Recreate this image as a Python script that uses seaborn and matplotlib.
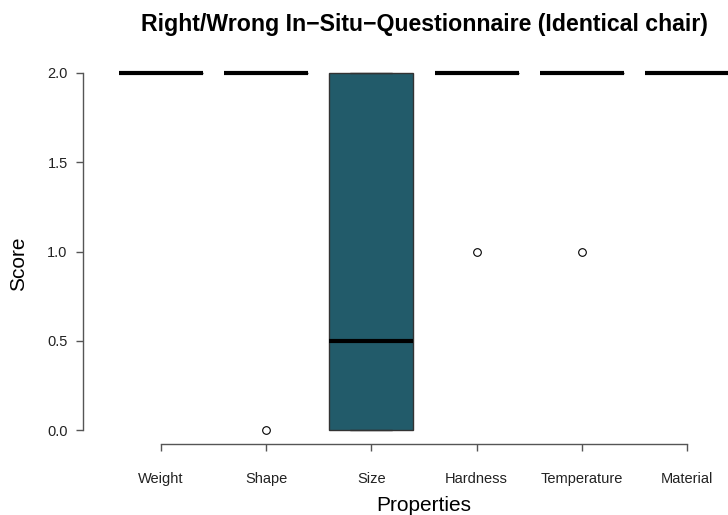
import numpy as np
import pandas as pd
import seaborn as sns
import matplotlib.pyplot as plt

properties = ["Weight", "Shape", "Size", "Hardness", "Temperature", "Material"]
weight = [2, 2, 2, 2, 2, 2, 2, 2]
shape = [2, 2, 2, 2, 2, 2, 2, 0]
size = [0, 0, 0, 0, 1, 2, 2, 2]
hardness = [2, 2, 2, 2, 2, 2, 2, 1]
temperature = [2, 2, 2, 2, 2, 2, 2, 1]
material = [2, 2, 2, 2, 2, 2, 2, 2]
y_ticks = [0.0, 0.5, 1.0, 1.5, 2.0]

scores = [weight, shape, size, hardness, temperature, material]
df = pd.DataFrame({
    "Properties": np.repeat(properties, [len(s) for s in scores]),
    "Score": np.concatenate(scores),
})

sns.set_style("white")
plt.rcParams["font.family"] = ["Liberation Sans", "DejaVu Sans"]
plt.rcParams["text.color"] = "black"
plt.rcParams["axes.labelcolor"] = "black"

fig = plt.figure(figsize=(7.28, 5.15), dpi=100)
ax = fig.add_axes([83 / 728, 70.7 / 515, 682 / 728, 385.6 / 515])

sns.boxplot(data=df, x="Properties", y="Score", order=properties, ax=ax,
            color="#225b6a", saturation=1, width=0.8, whis=1.5,
            linewidth=1, linecolor="#333333",
            medianprops=dict(color="black", linewidth=3),
            whiskerprops=dict(linestyle="--", color="#333333"),
            capprops=dict(color="#333333"),
            flierprops=dict(marker="o", markerfacecolor="none",
                            markeredgecolor="black", markersize=5.5,
                            markeredgewidth=0.8))

ax.set_xlim(-0.74, 5.74)
ax.set_ylim(-0.08, 2.08)
ax.set_yticks(y_ticks)
ax.set_yticklabels([f"{v:.1f}" for v in y_ticks])

for s in ["top", "right"]:
    ax.spines[s].set_visible(False)
ax.spines["left"].set_bounds(0, 2)
ax.spines["bottom"].set_bounds(0, 5)
for s in ["left", "bottom"]:
    ax.spines[s].set_color("#555555")
    ax.spines[s].set_linewidth(1)

ax.tick_params(axis="x", direction="out", length=5, width=1, color="#555555",
               pad=15, labelsize=10.5, labelcolor="#222222", bottom=True)
ax.tick_params(axis="y", direction="out", length=5, width=1, color="#555555",
               pad=6, labelsize=10.5, labelcolor="#222222", left=True)

ax.set_xlabel("Properties", fontsize=15, labelpad=7)
ax.set_ylabel("")
fig.text(19 / 728, 1 - 264 / 515, "Score", rotation=90, fontsize=15,
         ha="center", va="center")

fig.text(424 / 728, 1 - 25 / 515,
         "Right/Wrong In\u2212Situ\u2212Questionnaire (Identical chair)",
         fontsize=16.7, fontweight="bold", ha="center", va="center")

fig.savefig("out.png", dpi=100)
